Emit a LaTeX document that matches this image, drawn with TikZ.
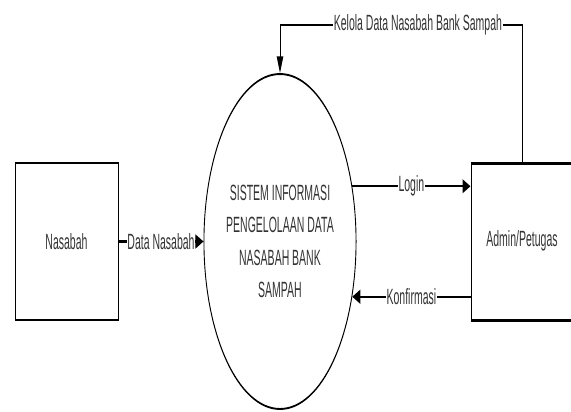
\documentclass[tikz,border=0pt]{standalone}
\usepackage{fontspec}
\setmainfont{Liberation Sans}
\usetikzlibrary{shapes.geometric,arrows.meta}
\begin{document}
\begin{tikzpicture}[
  txt/.style={font=\fontsize{10.5}{15.4}\selectfont, text=black!80},
  entity/.style={draw, rectangle, line width=1pt, minimum width=103pt, minimum height=74.8pt, inner sep=0pt, txt},
  process/.style={draw, ellipse, line width=0.9pt, minimum width=126pt, minimum height=159.5pt, inner sep=0pt, align=center, txt},
  flow/.style={line width=1pt, -{Triangle[length=8pt,width=6.5pt]}},
  lbl/.style={fill=white, inner sep=0.6pt, txt}
]
\useasboundingbox (0,0) rectangle (571pt,-412pt);
\begin{scope}[transform canvas={yscale=2.1}, x=1pt, y=-0.47619pt]
\clip (0,0) rectangle (571,412);
\node[entity] (nas) at (66.5,241.5) {Nasabah};
\node[process] (sys) at (280,241.5) {SISTEM INFORMASI\\PENGELOLAAN DATA\\NASABAH BANK\\SAMPAH};
\node[entity, minimum width=120pt] (adm) at (531,242) {};
\node[txt] (admlbl) at (522,241) {Admin/Petugas};
\coordinate (top) at (0,25);
\coordinate (admtop) at (522,0);
\draw[flow] (nas.east) -- node[lbl]{Data Nasabah} (sys.west);
\draw[flow] (sys.20) -- node[lbl]{Login} (sys.20 -| adm.west);
\draw[flow] (sys.-20 -| adm.west) -- node[lbl]{Konfirmasi} (sys.-20);
\draw[flow] (admtop |- adm.north) -- (admtop |- top) -- node[lbl,pos=0.43]{Kelola Data Nasabah Bank Sampah} (sys.north |- top) -- (sys.north);
\end{scope}
\end{tikzpicture}
\end{document}
